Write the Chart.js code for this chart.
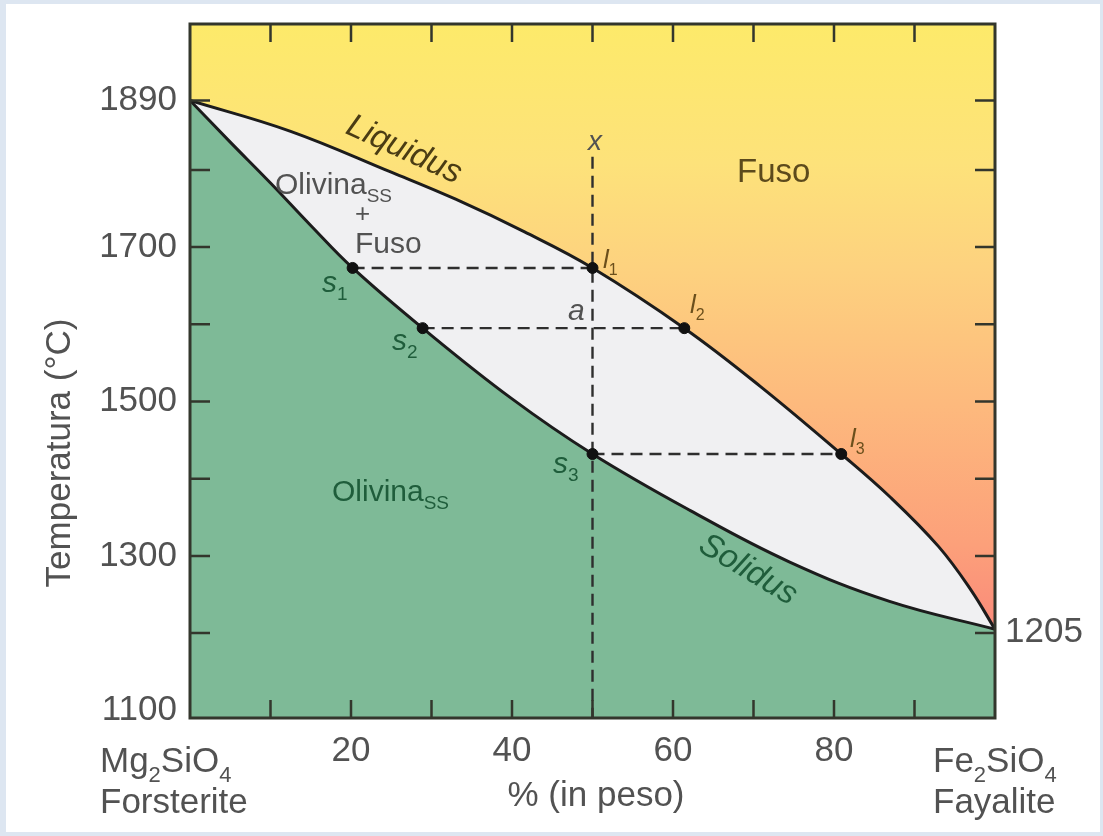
<!DOCTYPE html>
<html>
<head>
<meta charset="utf-8">
<script src="https://cdn.jsdelivr.net/npm/chart.js@4.4.1/dist/chart.umd.min.js"></script>
<style>
  html, body { margin: 0; padding: 0; background: #dde6f1; }
  #wrap { position: relative; width: 1103px; height: 836px; }
</style>
</head>
<body>
<div id="wrap"><canvas id="myChart"></canvas></div>
<script>
// axis ticks
const xTickValues = [0, 10, 20, 30, 40, 50, 60, 70, 80, 90, 100];
const xTickLabels = ["", "", "20", "", "40", "", "60", "", "80", "", ""];
const yTickValues = [1100, 1200, 1300, 1400, 1500, 1600, 1700, 1800, 1890];
const yTickLabels = ["1100", "", "1300", "", "1500", "", "1700", "", "1890"];

// liquidus curve (% Fe2SiO4, temperature)
const liquidusX = [0, 12.5, 25, 33, 41.5, 50, 61.4, 70.8, 80.9, 87, 93, 97, 100];
const liquidusT = [1890, 1850, 1797, 1762, 1720, 1673, 1595, 1520, 1432, 1376, 1312, 1256, 1205];

// solidus curve
const solidusX = [0, 5, 10, 15, 20.2, 28.9, 39.8, 50, 62.1, 74.5, 86.9, 100];
const solidusT = [1890, 1836, 1783, 1728, 1673, 1595, 1505, 1432, 1359, 1292, 1241, 1205];

// tie lines s-l and the isopleth x
const tieS = [20.2, 28.9, 50];
const tieL = [50, 61.4, 80.9];
const tieT = [1673, 1595, 1432];
const isoplethX = 50;
const isoplethT = [1817, 1090];

const FONT = "'Liberation Sans', Arial, sans-serif";

function toPoints(xs, ys) {
  return xs.map((x, i) => ({ x: x, y: ys[i] }));
}

// draw text with subscripts
function drawRich(ctx, x, y, parts, size, color, italic) {
  let cx = x;
  ctx.textAlign = "left";
  ctx.textBaseline = "alphabetic";
  ctx.fillStyle = color;
  parts.forEach(([t, sub]) => {
    const s = sub ? Math.round(size * 0.62) : size;
    ctx.font = `${italic && !sub ? "italic " : ""}${s}px ${FONT}`;
    ctx.fillText(t, cx, sub ? y + size * 0.28 : y);
    cx += ctx.measureText(t).width;
  });
}

function drawRotated(ctx, str, x, y, angle, size, color, italic) {
  ctx.save();
  ctx.translate(x, y);
  ctx.rotate(angle);
  ctx.font = `${italic ? "italic " : ""}${size}px ${FONT}`;
  ctx.fillStyle = color;
  ctx.textAlign = "center";
  ctx.textBaseline = "middle";
  ctx.fillText(str, 0, 0);
  ctx.restore();
}

const backgroundPlugin = {
  id: "pageBackground",
  beforeDraw(chart) {
    const { ctx, width, height, chartArea } = chart;
    ctx.save();
    ctx.fillStyle = "#dde6f1";
    ctx.fillRect(0, 0, width, height);
    ctx.fillStyle = "#ffffff";
    ctx.fillRect(6, 4, width - 9, height - 8);
    // two-phase field colour
    ctx.fillStyle = "#f0f0f2";
    ctx.fillRect(chartArea.left, chartArea.top, chartArea.right - chartArea.left, chartArea.bottom - chartArea.top);
    ctx.restore();
  },
};

const framePlugin = {
  id: "frameAndLabels",
  afterDatasetsDraw(chart) {
    const { ctx, chartArea } = chart;
    const xs = chart.scales.x;
    const ys = chart.scales.y;
    ctx.save();

    // frame
    ctx.strokeStyle = "#33362c";
    ctx.lineWidth = 3;
    ctx.strokeRect(chartArea.left, chartArea.top, chartArea.right - chartArea.left, chartArea.bottom - chartArea.top);

    // inward tick marks on all four sides
    ctx.lineWidth = 2.5;
    xTickValues.forEach((v) => {
      if (v === 0 || v === 100) return;
      const px = xs.getPixelForValue(v);
      ctx.beginPath();
      ctx.moveTo(px, chartArea.bottom);
      ctx.lineTo(px, chartArea.bottom - 18);
      ctx.moveTo(px, chartArea.top);
      ctx.lineTo(px, chartArea.top + 18);
      ctx.stroke();
    });
    yTickValues.forEach((v) => {
      if (v === 1100) return;
      const py = ys.getPixelForValue(v);
      ctx.beginPath();
      ctx.moveTo(chartArea.left, py);
      ctx.lineTo(chartArea.left + 20, py);
      ctx.moveTo(chartArea.right, py);
      ctx.lineTo(chartArea.right - 20, py);
      ctx.stroke();
    });

    const grey = "#525252";
    const green = "#1f5d3b";
    const brown = "#5c4a1c";

    // axis labels
    drawRich(ctx, 100, 772, [["Mg", false], ["2", true], ["SiO", false], ["4", true]], 35, grey);
    drawRich(ctx, 100, 813, [["Forsterite", false]], 35, grey);
    drawRich(ctx, 933, 772, [["Fe", false], ["2", true], ["SiO", false], ["4", true]], 35, grey);
    drawRich(ctx, 933, 813, [["Fayalite", false]], 35, grey);
    ctx.font = `35px ${FONT}`;
    ctx.fillStyle = grey;
    ctx.textAlign = "center";
    ctx.fillText("% (in peso)", 596, 806);
    drawRich(ctx, 1005, 642, [["1205", false]], 35, grey);

    ctx.save();
    ctx.translate(70, 453);
    ctx.rotate(-Math.PI / 2);
    ctx.font = `35px ${FONT}`;
    ctx.fillStyle = grey;
    ctx.textAlign = "center";
    ctx.textBaseline = "alphabetic";
    ctx.fillText("Temperatura (°C)", 0, 0);
    ctx.restore();

    // field labels
    drawRich(ctx, 737, 182, [["Fuso", false]], 33, brown);
    drawRich(ctx, 275, 194, [["Olivina", false], ["SS", true]], 30, grey);
    drawRich(ctx, 355, 222, [["+", false]], 26, grey);
    drawRich(ctx, 355, 253, [["Fuso", false]], 30, grey);
    drawRich(ctx, 332, 501, [["Olivina", false], ["SS", true]], 30, green);
    drawRotated(ctx, "Liquidus", 404, 150, 0.43, 33, "#4a3c14", true);
    drawRotated(ctx, "Solidus", 748, 570, 0.54, 33, green, true);

    // point labels
    drawRich(ctx, 322, 292, [["s", false], ["1", true]], 30, green, true);
    drawRich(ctx, 392, 350, [["s", false], ["2", true]], 30, green, true);
    drawRich(ctx, 553, 473, [["s", false], ["3", true]], 30, green, true);
    drawRich(ctx, 603, 268, [["l", false], ["1", true]], 26, "#6b4f1c", true);
    drawRich(ctx, 690, 313, [["l", false], ["2", true]], 26, "#6b4f1c", true);
    drawRich(ctx, 850, 447, [["l", false], ["3", true]], 26, "#6b4f1c", true);
    drawRich(ctx, 568, 320, [["a", false]], 30, grey, true);
    drawRich(ctx, 588, 150, [["x", false]], 28, grey, true);

    ctx.restore();
  },
};

const ctx = document.getElementById("myChart");

// datasets for the dashed tie lines
const tieDatasets = tieS.map((s, i) => ({
  type: "line",
  data: [{ x: s, y: tieT[i] }, { x: tieL[i], y: tieT[i] }],
  borderColor: "#2e2e2e",
  borderWidth: 2.4,
  borderDash: [12, 7],
  pointRadius: 0,
  fill: false,
  order: 2,
}));

const dotPoints = tieS
  .map((s, i) => ({ x: s, y: tieT[i] }))
  .concat(tieL.map((l, i) => ({ x: l, y: tieT[i] })));

new Chart(ctx, {
  type: "line",
  data: {
    datasets: [
      {
        label: "Liquidus",
        data: toPoints(liquidusX, liquidusT),
        borderColor: "#1c1c1c",
        borderWidth: 3,
        pointRadius: 0,
        tension: 0.4,
        fill: "end",
        backgroundColor: (context) => {
          const area = context.chart.chartArea;
          if (!area) return "#fde96c";
          const g = context.chart.ctx.createLinearGradient(0, area.top, 0, area.bottom);
          g.addColorStop(0, "#fdea6a");
          g.addColorStop(0.2, "#fde27a");
          g.addColorStop(0.35, "#fdd27f");
          g.addColorStop(0.55, "#fdb97d");
          g.addColorStop(0.75, "#fca07a");
          g.addColorStop(0.9, "#f9857a");
          g.addColorStop(1, "#f87878");
          return g;
        },
        order: 5,
      },
      {
        label: "Solidus",
        data: toPoints(solidusX, solidusT),
        borderColor: "#1c1c1c",
        borderWidth: 3,
        pointRadius: 0,
        tension: 0.4,
        fill: "start",
        backgroundColor: "#7eba97",
        order: 4,
      },
      ...tieDatasets,
      {
        type: "line",
        data: [{ x: isoplethX, y: isoplethT[0] }, { x: isoplethX, y: isoplethT[1] }],
        borderColor: "#2e2e2e",
        borderWidth: 2.4,
        borderDash: [12, 7],
        pointRadius: 0,
        fill: false,
        order: 2,
      },
      {
        type: "scatter",
        data: dotPoints,
        backgroundColor: "#111111",
        borderColor: "#111111",
        pointRadius: 5.5,
        showLine: false,
        order: 0,
      },
    ],
  },
  options: {
    responsive: true,
    maintainAspectRatio: false,
    devicePixelRatio: 1,
    animation: false,
    layout: { padding: { top: 24, right: 108, left: 0, bottom: 0 } },
    plugins: {
      legend: { display: false },
      tooltip: { enabled: false },
    },
    scales: {
      x: {
        type: "linear",
        min: 0,
        max: 100,
        grid: { display: false },
        border: { display: false },
        afterBuildTicks: (scale) => {
          scale.ticks = xTickValues.map((v) => ({ value: v }));
        },
        afterFit: (scale) => {
          scale.height = 118;
          scale.paddingLeft = 0;
          scale.paddingRight = 0;
        },
        ticks: {
          autoSkip: false,
          maxRotation: 0,
          padding: 4,
          color: "#525252",
          font: { family: FONT, size: 35, lineHeight: 1.2 },
          callback: (value) => xTickLabels[xTickValues.indexOf(value)] || "",
        },
      },
      y: {
        type: "linear",
        min: 1090,
        max: 1989,
        grid: { display: false },
        border: { display: false },
        afterBuildTicks: (scale) => {
          scale.ticks = yTickValues.map((v) => ({ value: v }));
        },
        afterFit: (scale) => {
          scale.width = 190;
          scale.paddingTop = 0;
          scale.paddingBottom = 0;
        },
        ticks: {
          autoSkip: false,
          padding: 5,
          color: "#525252",
          font: { family: FONT, size: 35, lineHeight: 1.2 },
          callback: (value) => yTickLabels[yTickValues.indexOf(value)] || "",
        },
      },
    },
  },
  plugins: [backgroundPlugin, framePlugin],
});
</script>
</body>
</html>
